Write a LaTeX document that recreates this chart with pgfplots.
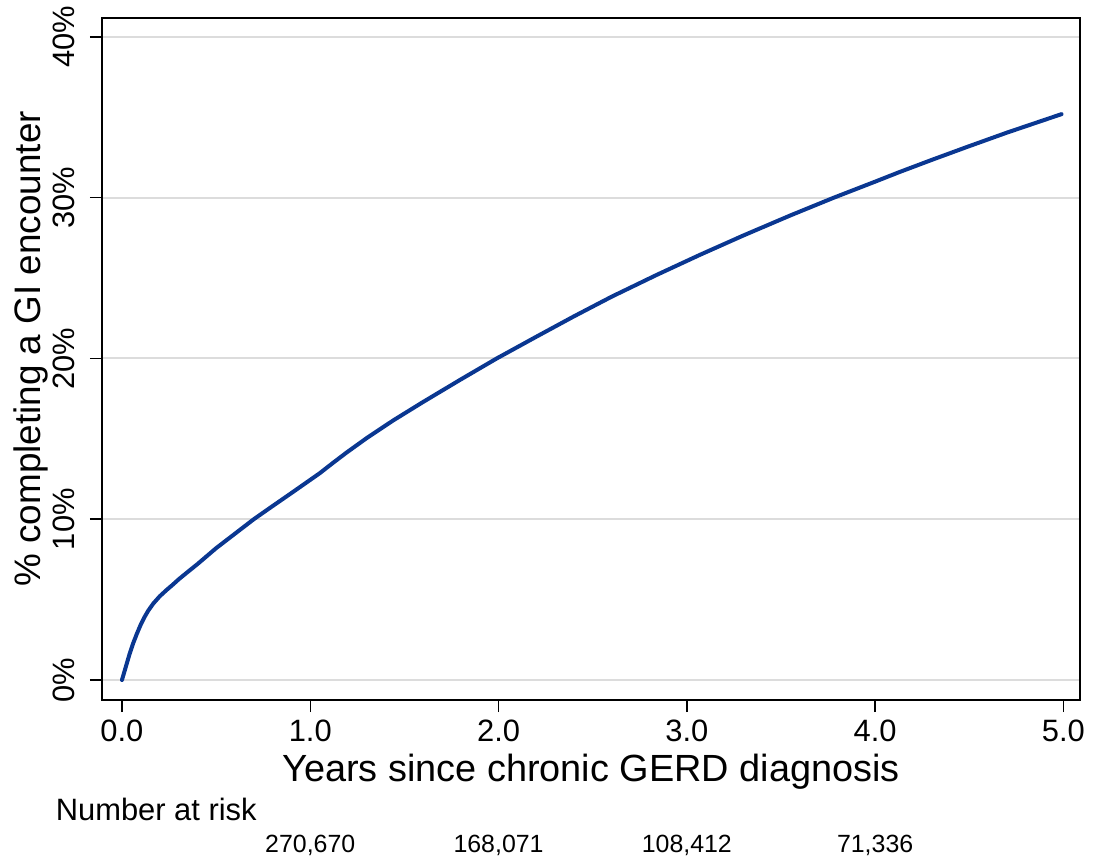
\documentclass[border=0pt]{standalone}
\usepackage{pgfplots}
\pgfplotsset{compat=1.18}
\usepackage{fontspec}
\setmainfont{Liberation Sans}
\definecolor{curve}{RGB}{10,55,145}
\definecolor{gridc}{RGB}{220,220,220}
\begin{document}
\begin{tikzpicture}
\path[use as bounding box] (-102bp,-163bp) rectangle (991bp,700bp);
\begin{axis}[
  at={(0,0)}, anchor=south west,
  scale only axis, width=978bp, height=682bp,
  xmin=-0.106, xmax=5.088, ymin=-1.244, ymax=41.18,
  xtick={0,1,2,3,4,5}, xticklabels={0.0,1.0,2.0,3.0,4.0,5.0},
  ytick={0,10,20,30,40}, yticklabels={0\%,10\%,20\%,30\%,40\%},
  tick align=outside, major tick length=12bp,
  xtick pos=bottom, ytick pos=left,
  every tick/.style={black, line width=1.5bp},
  axis line style={black, line width=1.5bp},
  ymajorgrids, major grid style={gridc, line width=2bp},
  xticklabel style={font=\fontsize{31}{36}\selectfont, anchor=base, yshift=-29.7bp},
  yticklabel style={font=\fontsize{31}{36}\selectfont, xshift=-15bp, rotate=90, anchor=base},
  xlabel={Years since chronic GERD diagnosis},
  ylabel={\% completing a GI encounter},
  xlabel style={font=\fontsize{38}{44}\selectfont, at={(axis description cs:0.5,-0.1188)}, anchor=base},
  ylabel style={font=\fontsize{37}{44}\selectfont, at={(axis description cs:-0.0624,0.515)}, anchor=base},
  clip=false,
]
\addplot[curve, line width=4bp, line join=round, line cap=round] coordinates {
(0,0) (0.02,0.8) (0.04,1.6) (0.06,2.3) (0.08,2.9) (0.10,3.45) (0.12,3.92)
(0.14,4.32) (0.166,4.75) (0.20,5.2) (0.237,5.6) (0.27,5.93) (0.3,6.25)
(0.35,6.73) (0.4,7.2) (0.45,7.7) (0.5,8.2) (0.6,9.1) (0.7,10.0)
(0.8,10.82) (0.9,11.63) (1.0,12.45) (1.05,12.86) (1.12,13.5)
(1.193,14.15) (1.3,15.05) (1.441,16.15) (1.6,17.3) (1.8,18.7) (1.99,20.0)
(2.2,21.35) (2.397,22.6) (2.6,23.84) (2.84,25.2) (3.07,26.45) (3.3,27.65)
(3.55,28.9) (3.78,30.0) (4.0,31.0) (4.13,31.6) (4.3,32.35) (4.486,33.15)
(4.7,34.05) (4.99,35.2)
};
\node[anchor=base west, font=\fontsize{31}{36}\selectfont] at (axis cs:-0.37,-8.71) {Number at risk};
\node[anchor=base, font=\fontsize{25}{30}\selectfont] at (axis cs:1,-10.7) {270,670};
\node[anchor=base, font=\fontsize{25}{30}\selectfont] at (axis cs:2,-10.7) {168,071};
\node[anchor=base, font=\fontsize{25}{30}\selectfont] at (axis cs:3,-10.7) {108,412};
\node[anchor=base, font=\fontsize{25}{30}\selectfont] at (axis cs:4,-10.7) {71,336};
\end{axis}
\end{tikzpicture}
\end{document}
